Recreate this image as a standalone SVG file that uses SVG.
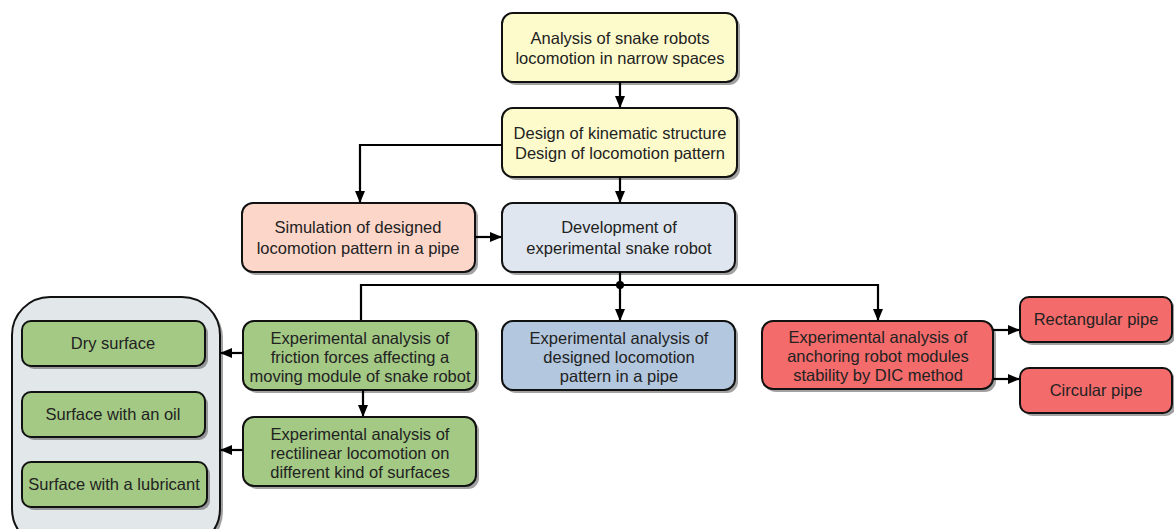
<svg xmlns="http://www.w3.org/2000/svg" width="1174" height="529" viewBox="0 0 1174 529">
<defs>
<style>
.b{stroke:#111;stroke-width:2}
.sh{fill:#555;opacity:0.55}
.t{font-family:"Liberation Sans",Arial,sans-serif;font-size:16.5px;fill:#222;text-anchor:middle}
.c{fill:none;stroke:#000;stroke-width:2.2}
.y{fill:#fdfbcc}
.p{fill:#fdd6ca}
.lb{fill:#dfe6ef}
.g{fill:#a3c985}
.bl{fill:#b3c7de}
.r{fill:#f46b6b}
</style>
<marker id="a" markerWidth="12" markerHeight="10" refX="11" refY="5" orient="auto" markerUnits="userSpaceOnUse"><path d="M0,0 L12,5 L0,10 z" fill="#000"/></marker>
</defs>
<rect width="1174" height="529" fill="#fff"/>

<g id="container">
<rect x="15" y="300" width="208" height="250" rx="38" class="sh"/>
<rect x="12" y="297" width="208" height="250" rx="38" fill="#e2e7ea" class="b"/>
</g>

<g id="n1"><rect x="505" y="16" width="235" height="69" rx="11" class="sh"/><rect x="502" y="13" width="235" height="69" rx="11" class="y b"/>
<text class="t" x="620" y="44">Analysis of snake robots</text><text class="t" x="620" y="64">locomotion in narrow spaces</text></g>

<g id="n2"><rect x="505" y="111" width="235" height="69" rx="11" class="sh"/><rect x="502" y="108" width="235" height="69" rx="11" class="y b"/>
<text class="t" x="620" y="139">Design of kinematic structure</text><text class="t" x="620" y="159">Design of locomotion pattern</text></g>

<g id="n3"><rect x="245" y="206" width="233" height="69" rx="11" class="sh"/><rect x="242" y="203" width="233" height="69" rx="11" class="p b"/>
<text class="t" x="358" y="233">Simulation of designed</text><text class="t" x="358" y="254">locomotion pattern in a pipe</text></g>

<g id="n4"><rect x="505" y="206" width="233" height="69" rx="11" class="sh"/><rect x="502" y="203" width="233" height="69" rx="11" class="lb b"/>
<text class="t" x="619" y="233">Development of</text><text class="t" x="619" y="254">experimental snake robot</text></g>

<g id="n5"><rect x="246" y="324" width="233" height="69" rx="11" class="sh"/><rect x="243" y="321" width="233" height="69" rx="11" class="g b"/>
<text class="t" x="360" y="344">Experimental analysis of</text><text class="t" x="360" y="363">friction forces affecting a</text><text class="t" x="360" y="382">moving module of snake robot</text></g>

<g id="n6"><rect x="246" y="420" width="233" height="69" rx="11" class="sh"/><rect x="243" y="417" width="233" height="69" rx="11" class="g b"/>
<text class="t" x="360" y="440">Experimental analysis of</text><text class="t" x="360" y="459">rectilinear locomotion on</text><text class="t" x="360" y="478">different kind of surfaces</text></g>

<g id="n7"><rect x="505" y="324" width="233" height="69" rx="11" class="sh"/><rect x="502" y="321" width="233" height="69" rx="11" class="bl b"/>
<text class="t" x="619" y="344">Experimental analysis of</text><text class="t" x="619" y="363">designed locomotion</text><text class="t" x="619" y="382">pattern in a pipe</text></g>

<g id="n8"><rect x="765" y="324" width="231" height="68" rx="11" class="sh"/><rect x="762" y="321" width="231" height="68" rx="11" class="r b"/>
<text class="t" x="878" y="343">Experimental analysis of</text><text class="t" x="878" y="362">anchoring robot modules</text><text class="t" x="878" y="381">stability by DIC method</text></g>

<g id="n9"><rect x="1023" y="300" width="152" height="45" rx="9" class="sh"/><rect x="1020" y="297" width="152" height="45" rx="9" class="r b"/>
<text class="t" x="1096" y="325">Rectangular pipe</text></g>

<g id="n10"><rect x="1023" y="371" width="152" height="45" rx="9" class="sh"/><rect x="1020" y="368" width="152" height="45" rx="9" class="r b"/>
<text class="t" x="1096" y="396">Circular pipe</text></g>

<g id="n11"><rect x="25" y="324" width="183" height="45" rx="9" class="sh"/><rect x="22" y="321" width="183" height="45" rx="9" class="g b"/>
<text class="t" x="113" y="349">Dry surface</text></g>

<g id="n12"><rect x="25" y="395" width="183" height="45" rx="9" class="sh"/><rect x="22" y="392" width="183" height="45" rx="9" class="g b"/>
<text class="t" x="113" y="420">Surface with an oil</text></g>

<g id="n13"><rect x="25" y="465" width="185" height="45" rx="9" class="sh"/><rect x="22" y="462" width="185" height="45" rx="9" class="g b"/>
<text class="t" x="114" y="490">Surface with a lubricant</text></g>

<g id="connectors">
<path class="c" d="M620,82 V107" marker-end="url(#a)"/>
<path class="c" d="M620,177 V202" marker-end="url(#a)"/>
<path class="c" d="M502,145 H360 V202" marker-end="url(#a)"/>
<path class="c" d="M475,237 H501" marker-end="url(#a)"/>
<path class="c" d="M620,272 V285"/>
<path class="c" d="M361,320 V285 H878 V320" marker-end="url(#a)"/>
<path class="c" d="M620,285 V320" marker-end="url(#a)"/>
<circle cx="620" cy="285" r="4" fill="#000"/>
<path class="c" d="M363,390 V416" marker-end="url(#a)"/>
<path class="c" d="M243,353 H221" marker-end="url(#a)"/>
<path class="c" d="M243,450 H221" marker-end="url(#a)"/>
<path class="c" d="M993,330 H1019" marker-end="url(#a)"/>
<path class="c" d="M993,379 H1019" marker-end="url(#a)"/>
</g>
</svg>
